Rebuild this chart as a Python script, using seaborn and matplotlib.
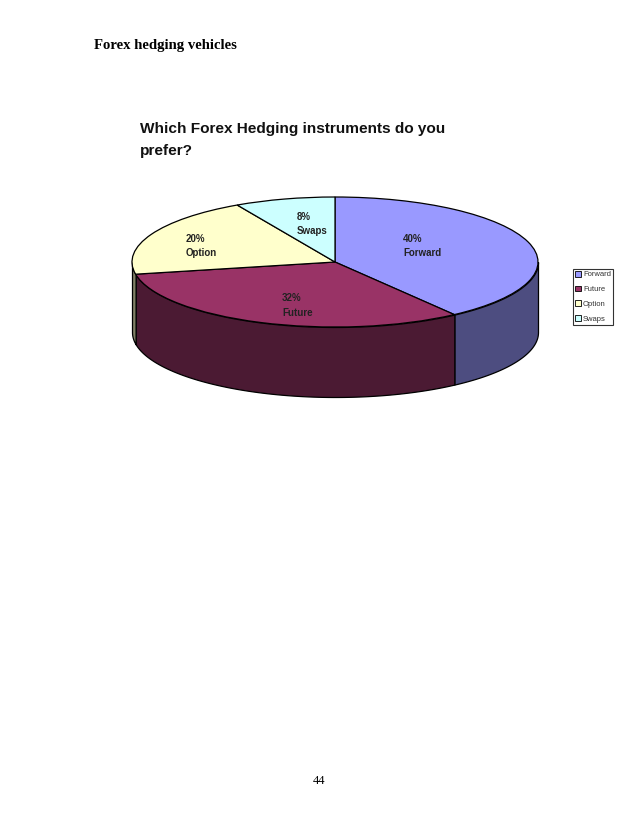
import matplotlib
matplotlib.use("Agg")
import matplotlib.pyplot as plt
from matplotlib.patches import Rectangle
import numpy as np
import seaborn as sns

CATEGORIES = ["Forward", "Future", "Option", "Swaps"]
SHARES = [40, 32, 20, 8]
TOP_COLORS = ["#9999FF", "#993366", "#FFFFCC", "#CCFFFF"]
SIDE_COLORS = ["#4D4D80", "#4B1A33", "#808066", "#668080"]
TITLE = "Which Forex Hedging instruments do you\nprefer?"
HEADER = "Forex hedging vehicles"
PAGE = "44"

W, H = 638, 826
DEPTH = 70 / 65  # wall height in pie units (y axis squashed)
LABEL_POS = {
    "Forward": (403, 246),
    "Future": (282, 305.5),
    "Option": (186, 246),
    "Swaps": (297, 224),
}

sns.set_theme(style="white")
plt.rcParams["font.family"] = ["Liberation Sans", "DejaVu Sans"]

fig = plt.figure(figsize=(W / 100, H / 100), dpi=100, facecolor="white")


def px_rect(x0, y0, x1, y1):
    return [x0 / W, 1 - y1 / H, (x1 - x0) / W, (y1 - y0) / H]


ax = fig.add_axes(px_rect(132, 197, 538, 327))

wedges, _ = ax.pie(
    SHARES,
    colors=sns.color_palette(TOP_COLORS),
    startangle=90,
    counterclock=False,
    radius=1,
    frame=True,
    wedgeprops={"edgecolor": "black", "linewidth": 0.9, "zorder": 5},
)
ax.set_aspect("auto")
ax.set_xlim(-1, 1)
ax.set_ylim(-1, 1)
ax.set_axis_off()

# side wall of the fake 3d pie, only the part facing the viewer
edges = 90 - 3.6 * np.cumsum([0] + SHARES)
for i in range(len(SHARES)):
    start, stop = max(edges[i + 1], -180), min(edges[i], 0)
    if stop <= start:
        continue
    t = np.radians(np.linspace(start, stop, 80))
    ax.fill_between(
        np.cos(t),
        np.sin(t) - DEPTH,
        np.sin(t),
        color=SIDE_COLORS[i],
        edgecolor="black",
        linewidth=0.9,
        clip_on=False,
        zorder=2,
    )

for name, share in zip(CATEGORIES, SHARES):
    x, y = LABEL_POS[name]
    fig.text(
        x / W,
        1 - y / H,
        f"{share}%\n{name}",
        fontsize=7.0,
        fontweight="bold",
        color="#222222",
        ha="left",
        va="center",
        linespacing=1.6,
    )

fig.text(140 / W, 1 - 140 / H, TITLE, fontsize=11.1, fontweight="bold",
         color="#111111", ha="left", va="center", linespacing=1.8)
fig.text(94 / W, 1 - 46 / H, HEADER, fontsize=10.6, fontweight="bold",
         family=["Liberation Serif"], color="black", ha="left", va="center")
fig.text(319 / W, 1 - 781 / H, PAGE, fontsize=9, family=["Liberation Serif"],
         color="black", ha="center", va="center")

handles = [Rectangle((0, 0), 1, 1, facecolor=c, edgecolor="black", linewidth=0.6)
           for c in TOP_COLORS]
leg = fig.legend(
    handles,
    CATEGORIES,
    loc="upper left",
    bbox_to_anchor=(573 / W, 1 - 268.5 / H),
    fontsize=5.5,
    frameon=True,
    fancybox=False,
    edgecolor="black",
    facecolor="white",
    handlelength=0.8,
    handleheight=0.8,
    handletextpad=0.2,
    labelspacing=0.95,
    borderpad=0.3,
    borderaxespad=0,
)
leg.get_frame().set_linewidth(0.8)
for txt in leg.get_texts():
    txt.set_color("#333333")

fig.savefig("out.png", dpi=100, facecolor="white")
